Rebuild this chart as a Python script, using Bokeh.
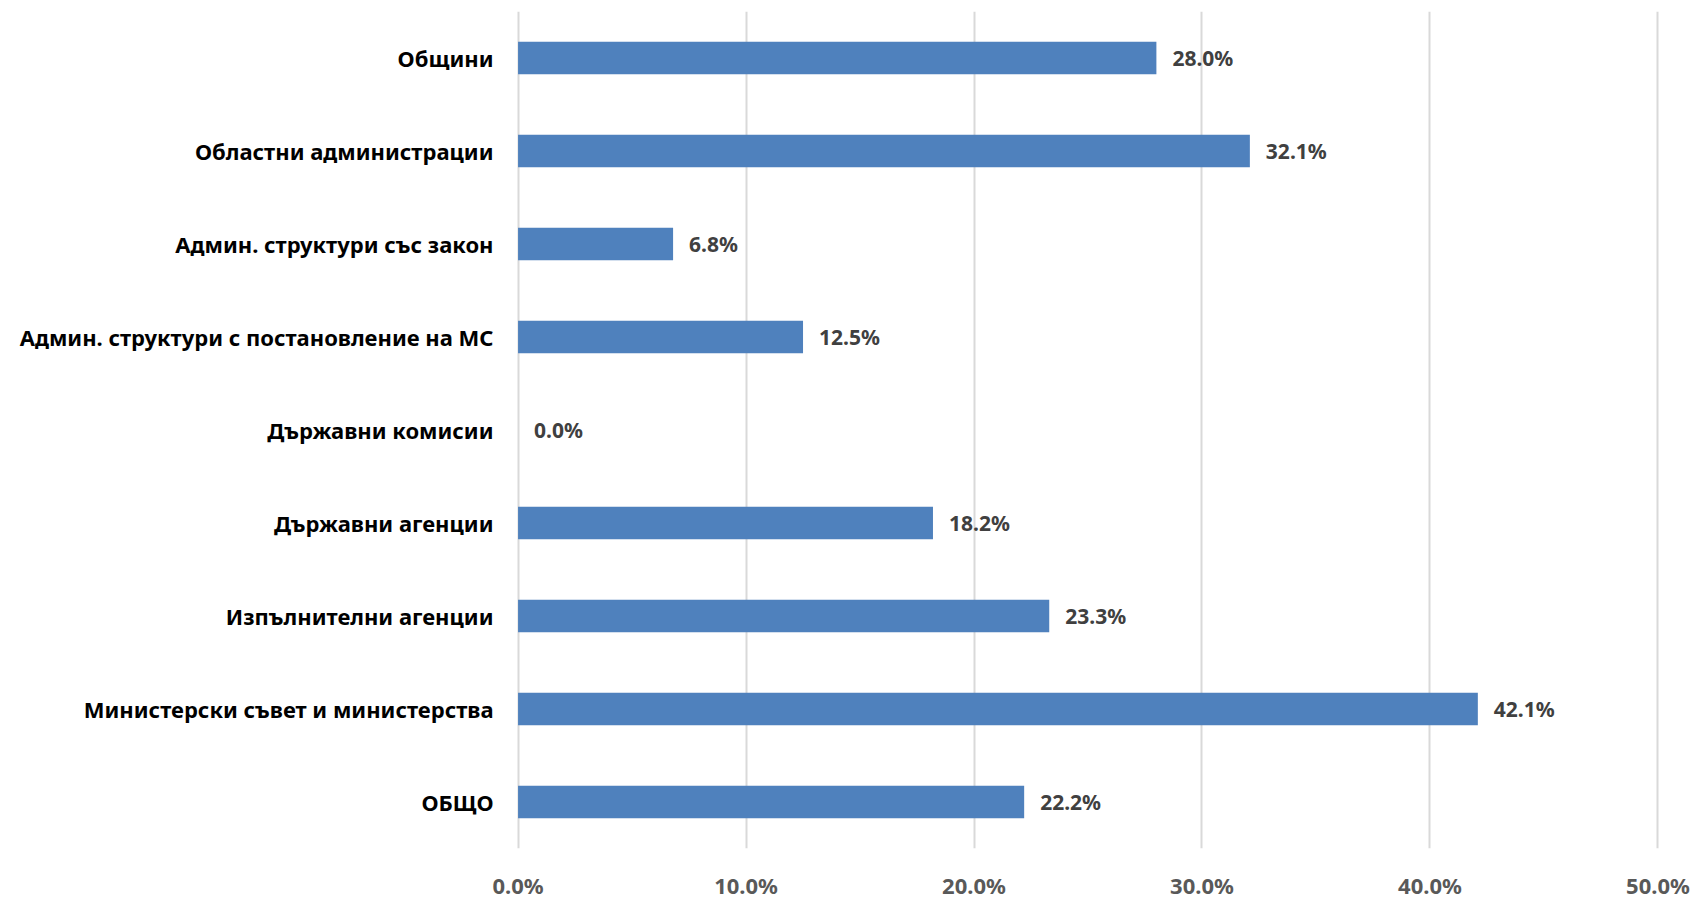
from bokeh.plotting import figure
from bokeh.models import FactorRange, NumeralTickFormatter, FixedTicker, ColumnDataSource
from bokeh.core.properties import value
from bokeh.embed import file_html
from bokeh.resources import INLINE

categories = [
    "Общини",
    "Областни администрации",
    "Админ. структури със закон",
    "Админ. структури с постановление на МС",
    "Държавни комисии",
    "Държавни агенции",
    "Изпълнителни агенции",
    "Министерски съвет и министерства",
    "ОБЩО",
]
values = [0.280, 0.321, 0.068, 0.125, 0.000, 0.182, 0.233, 0.421, 0.222]
labels = [f"{v*100:.1f}%" for v in values]
x_ticks = [0.0, 0.1, 0.2, 0.3, 0.4, 0.5]

FONT = "Noto Sans"

src = ColumnDataSource(dict(cat=categories, val=values, lab=labels))

p = figure(
    width=1696, height=902,
    y_range=FactorRange(factors=list(reversed(categories))),
    x_range=(-0.002, 0.502),
    output_backend="svg", toolbar_location=None,
    min_border_left=513, min_border_right=34,
    min_border_top=11, min_border_bottom=46,
)
p.outline_line_color = None
p.background_fill_color = "white"

p.hbar(y="cat", right="val", left=0, height=0.35, source=src,
       fill_color="#4F81BD", line_color=None)

p.text(x="val", y="cat", text="lab", source=src, x_offset=16,
       text_align="left", text_baseline="middle",
       text_font=value(FONT), text_font_style="bold",
       text_font_size="21px", text_color="#404040")

p.xaxis.ticker = FixedTicker(ticks=x_ticks)
p.xaxis.formatter = NumeralTickFormatter(format="0.0%")
p.xaxis.axis_line_color = None
p.xaxis.major_tick_line_color = None
p.xaxis.minor_tick_line_color = None
p.xaxis.major_label_standoff = 15
p.xaxis.major_label_text_font = FONT
p.xaxis.major_label_text_font_style = "bold"
p.xaxis.major_label_text_font_size = "22px"
p.xaxis.major_label_text_color = "#595959"

p.yaxis.axis_line_color = None
p.yaxis.major_tick_line_color = None
p.yaxis.minor_tick_line_color = None
p.yaxis.major_label_standoff = 14
p.yaxis.major_label_text_font = FONT
p.yaxis.major_label_text_font_style = "bold"
p.yaxis.major_label_text_font_size = "22px"
p.yaxis.major_label_text_color = "#000000"

p.xgrid.grid_line_color = "#D9D9D9"
p.xgrid.grid_line_width = 2
p.ygrid.grid_line_color = None

open("out.html", "w").write(file_html(p, INLINE))
